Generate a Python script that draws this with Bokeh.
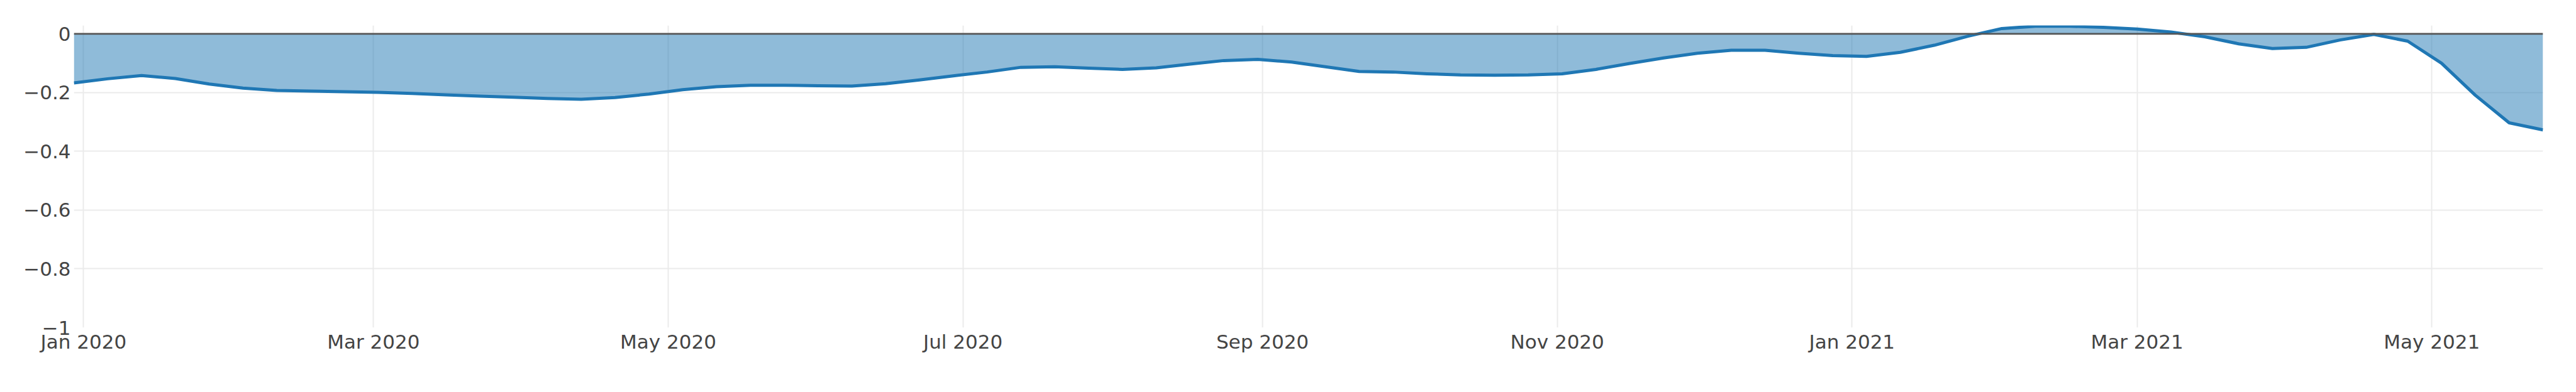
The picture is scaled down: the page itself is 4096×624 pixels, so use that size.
from datetime import datetime
import pandas as pd
from bokeh.plotting import figure
from bokeh.models import Range1d, FixedTicker, Span, CustomJSTickFormatter, ColumnDataSource
from bokeh.embed import file_html
from bokeh.resources import INLINE

# weekly observations (Mondays)
start_date = "2019-12-30"
values = [
    -0.167, -0.153, -0.142, -0.152, -0.171, -0.185, -0.193, -0.195, -0.197, -0.199,
    -0.203, -0.208, -0.212, -0.216, -0.220, -0.223, -0.217, -0.205, -0.190, -0.180,
    -0.175, -0.175, -0.177, -0.178, -0.170, -0.157, -0.143, -0.130, -0.114, -0.112,
    -0.117, -0.121, -0.116, -0.103, -0.091, -0.087, -0.096, -0.112, -0.128, -0.130,
    -0.136, -0.140, -0.141, -0.140, -0.136, -0.121, -0.101, -0.082, -0.066, -0.056,
    -0.056, -0.066, -0.074, -0.077, -0.063, -0.039, -0.008, 0.018, 0.026, 0.026,
    0.022, 0.016, 0.006, -0.010, -0.034, -0.050, -0.046, -0.021, -0.002, -0.025,
    -0.100, -0.209, -0.303, -0.327,
]
dates = pd.date_range(start_date, periods=len(values), freq="7D")

x_tick_dates = ["2020-01-01", "2020-03-01", "2020-05-01", "2020-07-01", "2020-09-01",
                "2020-11-01", "2021-01-01", "2021-03-01", "2021-05-01"]
x_tick_labels = ["Jan 2020", "Mar 2020", "May 2020", "Jul 2020", "Sep 2020",
                 "Nov 2020", "Jan 2021", "Mar 2021", "May 2021"]
y_ticks = [0, -0.2, -0.4, -0.6, -0.8, -1]

src = ColumnDataSource(dict(x=dates, y=values, zero=[0.0] * len(values)))

p = figure(width=4088, height=616, x_axis_type="datetime",
           output_backend="svg", toolbar_location=None,
           x_range=Range1d(dates[0], dates[-1]),
           y_range=Range1d(-1, 0.0285),
           min_border_left=117, min_border_right=45,
           min_border_top=40, min_border_bottom=95)
p.outline_line_color = None
p.background_fill_color = "white"
p.border_fill_color = "white"

p.varea(x="x", y1="zero", y2="y", source=src, fill_color="#1f77b4", fill_alpha=0.5)
zero = Span(location=0, dimension="width", line_color="#555555", line_width=2.6)
p.add_layout(zero)
p.line(x="x", y="y", source=src, line_color="#1f77b4", line_width=5,
       line_join="round")

tick_ms = [pd.Timestamp(d).value / 1e6 for d in x_tick_dates]
p.xaxis.ticker = FixedTicker(ticks=tick_ms)
p.xaxis.major_label_overrides = {t: l for t, l in zip(tick_ms, x_tick_labels)}
p.yaxis.ticker = FixedTicker(ticks=y_ticks)
p.yaxis.formatter = CustomJSTickFormatter(
    code="var s = (Math.round(tick*10)/10).toString(); return s.replace('-', '\u2212');")

for ax in (p.xaxis, p.yaxis):
    ax.axis_line_color = None
    ax.major_tick_line_color = None
    ax.minor_tick_line_color = None
    ax.major_tick_out = 0
    ax.major_tick_in = 0
    ax.major_label_text_font = "DejaVu Sans"
    ax.major_label_text_font_size = "31px"
    ax.major_label_text_color = "#444444"
p.xaxis.major_label_standoff = 4
p.yaxis.major_label_standoff = 5

p.xgrid.grid_line_color = "#ebebeb"
p.xgrid.grid_line_width = 2
p.ygrid.grid_line_color = "#ebebeb"
p.ygrid.grid_line_width = 2

open("out.html", "w").write(file_html(p, INLINE))
